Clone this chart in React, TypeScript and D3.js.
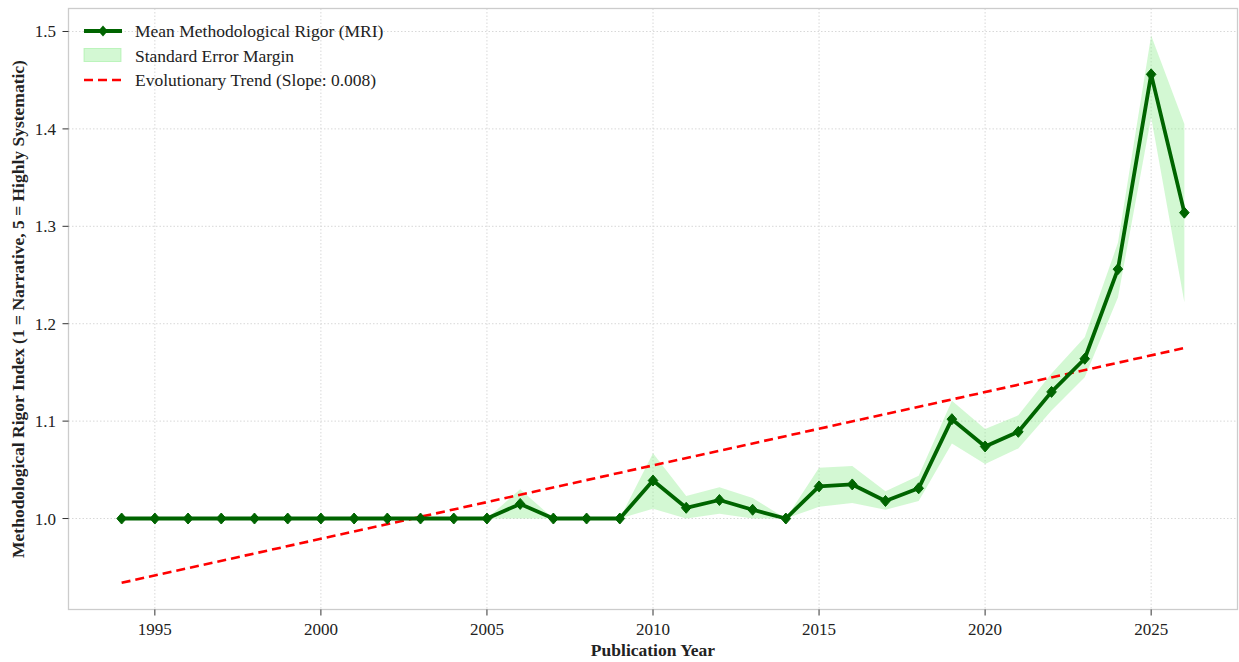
import React from "react";
import * as d3 from "d3";

const years = [1994,1995,1996,1997,1998,1999,2000,2001,2002,2003,2004,2005,2006,2007,2008,2009,2010,2011,2012,2013,2014,2015,2016,2017,2018,2019,2020,2021,2022,2023,2024,2025,2026];
const mriMean = [1.0,1.0,1.0,1.0,1.0,1.0,1.0,1.0,1.0,1.0,1.0,1.0,1.015,1.0,1.0,1.0,1.039,1.011,1.019,1.009,1.0,1.033,1.035,1.018,1.031,1.102,1.074,1.089,1.130,1.164,1.256,1.456,1.314];
const bandUpper = [1.0,1.0,1.0,1.0,1.0,1.0,1.0,1.0,1.0,1.0,1.0,1.0,1.030,1.0,1.0,1.0,1.067,1.023,1.032,1.021,1.0,1.052,1.054,1.028,1.044,1.121,1.092,1.106,1.149,1.186,1.283,1.496,1.405];
const bandLower = [1.0,1.0,1.0,1.0,1.0,1.0,1.0,1.0,1.0,1.0,1.0,1.0,1.0,1.0,1.0,1.0,1.010,1.0,1.005,1.0,1.0,1.012,1.016,1.009,1.018,1.077,1.056,1.072,1.111,1.145,1.227,1.412,1.222];
const trendYears = [1994, 2026];
const trendValues = [0.934, 1.175];
const xTicks = [1995, 2000, 2005, 2010, 2015, 2020, 2025];
const yTicks = [1.0, 1.1, 1.2, 1.3, 1.4, 1.5];
const legendLabels = ["Mean Methodological Rigor (MRI)", "Standard Error Margin", "Evolutionary Trend (Slope: 0.008)"];

const W = 1239, H = 662;
const L = 68.5, R = 1237.5, T = 8.5, B = 609.5;
const FONT = "'Liberation Serif', 'Times New Roman', serif";

export default function App() {
  const x = d3.scaleLinear().domain([1992.4, 2027.6]).range([L, R]);
  const y = d3.scaleLinear().domain([0.9066, 1.5236]).range([B, T]);

  const idx = years.map((_, i) => i);
  const area = d3.area<number>().x(i => x(years[i])).y0(i => y(bandLower[i])).y1(i => y(bandUpper[i]));
  const line = d3.line<number>().x(i => x(years[i])).y(i => y(mriMean[i]));
  const trend = d3.line<number>().x(i => x(trendYears[i])).y(i => y(trendValues[i]));
  const diamond = (cx: number, cy: number) => `M${cx},${cy - 5.5}L${cx + 4.8},${cy}L${cx},${cy + 5.5}L${cx - 4.8},${cy}Z`;

  return (
    <svg width={W} height={H} style={{ position: "absolute", left: 0, top: 0, background: "#fff" }} fontFamily={FONT}>
      <rect x={0} y={0} width={W} height={H} fill="#fff" />
      {/* grid */}
      {xTicks.map(t => (
        <line key={"gx" + t} x1={x(t)} x2={x(t)} y1={T} y2={B} stroke="#d8d8d8" strokeWidth={1} strokeDasharray="1.5,2" />
      ))}
      {yTicks.map(t => (
        <line key={"gy" + t} x1={L} x2={R} y1={y(t)} y2={y(t)} stroke="#d8d8d8" strokeWidth={1} strokeDasharray="1.5,2" />
      ))}
      {/* band */}
      <path d={area(idx) || ""} fill="#90ee90" fillOpacity={0.4} stroke="none" />
      {/* trend */}
      <path d={trend([0, 1]) || ""} fill="none" stroke="#ff0000" strokeWidth={2.6} strokeDasharray="9,5" />
      {/* line */}
      <path d={line(idx) || ""} fill="none" stroke="#006400" strokeWidth={3.8} strokeLinejoin="round" />
      {idx.map(i => (
        <path key={"m" + i} d={diamond(x(years[i]), y(mriMean[i]))} fill="#006400" stroke="#006400" strokeWidth={1} />
      ))}
      {/* frame */}
      <rect x={L} y={T} width={R - L} height={B - T} fill="none" stroke="#cccccc" strokeWidth={1.3} />
      {/* x ticks */}
      {xTicks.map(t => (
        <g key={"xt" + t}>
          <line x1={x(t)} x2={x(t)} y1={B} y2={B + 6} stroke="#333" strokeWidth={1} />
          <text x={x(t)} y={635} textAnchor="middle" fontSize={17} fill="#222">{t}</text>
        </g>
      ))}
      {yTicks.map(t => (
        <g key={"yt" + t}>
          <line x1={L - 6} x2={L} y1={y(t)} y2={y(t)} stroke="#333" strokeWidth={1} />
          <text x={56} y={y(t) + 6} textAnchor="end" fontSize={17} fill="#222">{t.toFixed(1)}</text>
        </g>
      ))}
      <text x={(L + R) / 2} y={656} textAnchor="middle" fontSize={17.5} fontWeight="bold" fill="#222">Publication Year</text>
      <text transform={`translate(24,${(T + B) / 2}) rotate(-90)`} textAnchor="middle" fontSize={17.5} fontWeight="bold" fill="#222">
        Methodological Rigor Index (1 = Narrative, 5 = Highly Systematic)
      </text>
      {/* legend */}
      <g>
        <line x1={84} x2={122} y1={31} y2={31} stroke="#006400" strokeWidth={3.8} />
        <path d={diamond(103, 31)} fill="#006400" />
        <text x={135} y={37} fontSize={17.5} fill="#222">{legendLabels[0]}</text>
        <rect x={84} y={48.5} width={37} height={13} fill="#90ee90" fillOpacity={0.4} stroke="#90ee90" strokeOpacity={0.5} />
        <text x={135} y={61.5} fontSize={17.5} fill="#222">{legendLabels[1]}</text>
        <line x1={84} x2={122} y1={80} y2={80} stroke="#ff0000" strokeWidth={2.6} strokeDasharray="9,5" />
        <text x={135} y={86} fontSize={17.5} fill="#222">{legendLabels[2]}</text>
      </g>
    </svg>
  );
}
